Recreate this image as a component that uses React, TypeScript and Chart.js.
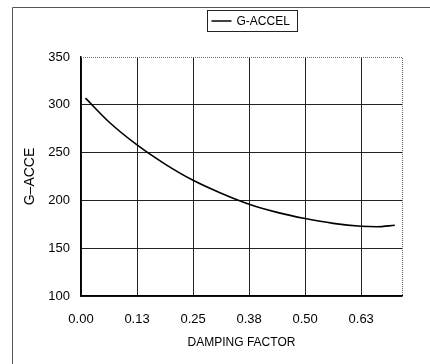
import React, { useEffect, useRef } from "react";
import { Chart, registerables } from "chart.js";

Chart.register(...registerables);

const seriesLabel = "G-ACCEL";
const dampingFactor = [0.01, 0.0625, 0.125, 0.1875, 0.25, 0.3125, 0.375, 0.4375, 0.5, 0.5625, 0.625, 0.66, 0.7];
const gAccel = [307, 282, 258, 238, 221, 207.5, 196, 187.5, 181, 176, 173, 172.5, 174];
const xTickValues = [0, 0.125, 0.25, 0.375, 0.5, 0.625];
const xTickLabels = ["0.00", "0.13", "0.25", "0.38", "0.50", "0.63"];
const yTickValues = [100, 150, 200, 250, 300, 350];
const xTitle = "DAMPING FACTOR";
const yTitle = "G\u2013ACCE";

const FONT = "'Liberation Sans', Arial, Helvetica, sans-serif";

const framePlugin = {
  id: "frame",
  beforeDraw(chart: any) {
    const ctx = chart.ctx;
    ctx.save();
    ctx.strokeStyle = "#555";
    ctx.lineWidth = 1;
    ctx.beginPath();
    ctx.moveTo(12.5, 364);
    ctx.lineTo(12.5, 7.5);
    ctx.lineTo(430, 7.5);
    ctx.stroke();
    ctx.restore();
  },
  afterDatasetsDraw(chart: any) {
    const { ctx, chartArea } = chart;
    ctx.save();
    ctx.strokeStyle = "#666";
    ctx.lineWidth = 1;
    ctx.setLineDash([1, 1]);
    ctx.beginPath();
    ctx.moveTo(chartArea.left, chartArea.top + 0.5);
    ctx.lineTo(chartArea.right + 0.5, chartArea.top + 0.5);
    ctx.lineTo(chartArea.right + 0.5, chartArea.bottom);
    ctx.stroke();
    ctx.setLineDash([]);
    const bx = 207.5, by = 10.5, bw = 90, bh = 21;
    ctx.strokeStyle = "#222";
    ctx.strokeRect(bx, by, bw, bh);
    ctx.strokeStyle = "#000";
    ctx.lineWidth = 1.5;
    ctx.beginPath();
    ctx.moveTo(bx + 4, by + bh / 2);
    ctx.lineTo(bx + 24, by + bh / 2);
    ctx.stroke();
    ctx.fillStyle = "#000";
    ctx.font = `12px ${FONT}`;
    ctx.textBaseline = "middle";
    ctx.textAlign = "left";
    ctx.fillText(chart.data.datasets[0].label, bx + 29, by + bh / 2 + 0.5);
    ctx.restore();
  },
};

export default function App() {
  const canvasRef = useRef<HTMLCanvasElement | null>(null);

  useEffect(() => {
    document.body.style.margin = "0";
    const canvas = canvasRef.current;
    if (!canvas) return;
    const chart = new Chart(canvas, {
      type: "line",
      data: {
        datasets: [
          {
            label: seriesLabel,
            data: dampingFactor.map((x, i) => ({ x, y: gAccel[i] })),
            borderColor: "#000",
            borderWidth: 1.6,
            pointRadius: 0,
            cubicInterpolationMode: "monotone",
            fill: false,
          },
        ],
      },
      options: {
        responsive: false,
        animation: false,
        layout: { padding: { left: 14, right: 28, top: 57, bottom: 14 } },
        plugins: { legend: { display: false }, tooltip: { enabled: false } },
        scales: {
          x: {
            type: "linear",
            min: 0,
            max: 0.716,
            afterBuildTicks: (scale: any) => {
              scale.ticks = xTickValues.map((v) => ({ value: v }));
            },
            afterFit: (scale: any) => {
              scale.height = 54;
            },
            ticks: {
              autoSkip: false,
              maxRotation: 0,
              padding: 16,
              color: "#000",
              font: { family: FONT, size: 13 },
              callback: (v: any) => {
                const i = xTickValues.indexOf(Number(v));
                return i >= 0 ? xTickLabels[i] : "";
              },
            },
            grid: { color: "#222", lineWidth: 1, drawTicks: false },
            border: { color: "#000", width: 1.5 },
            title: {
              display: true,
              text: xTitle,
              color: "#000",
              font: { family: FONT, size: 12 },
              padding: { top: 4, bottom: 0 },
            },
          },
          y: {
            type: "linear",
            min: 100,
            max: 350,
            afterBuildTicks: (scale: any) => {
              scale.ticks = yTickValues.map((v) => ({ value: v }));
            },
            afterFit: (scale: any) => {
              scale.width = 67;
            },
            ticks: {
              padding: 11,
              color: "#000",
              font: { family: FONT, size: 13 },
              callback: (v: any) => String(v),
            },
            grid: {
              color: (c: any) => (c.tick && c.tick.value === 350 ? "rgba(0,0,0,0)" : "#222"),
              lineWidth: 1,
              drawTicks: false,
            },
            border: { color: "#000", width: 1.5 },
            title: {
              display: true,
              text: yTitle,
              color: "#000",
              font: { family: FONT, size: 14 },
              padding: { top: 8, bottom: 0 },
            },
          },
        },
      },
      plugins: [framePlugin],
    } as any);
    return () => chart.destroy();
  }, []);

  return (
    <div style={{ position: "absolute", left: 0, top: 0, width: 430, height: 364, background: "#fff" }}>
      <canvas ref={canvasRef} width={430} height={364} style={{ width: 430, height: 364 }} />
    </div>
  );
}
